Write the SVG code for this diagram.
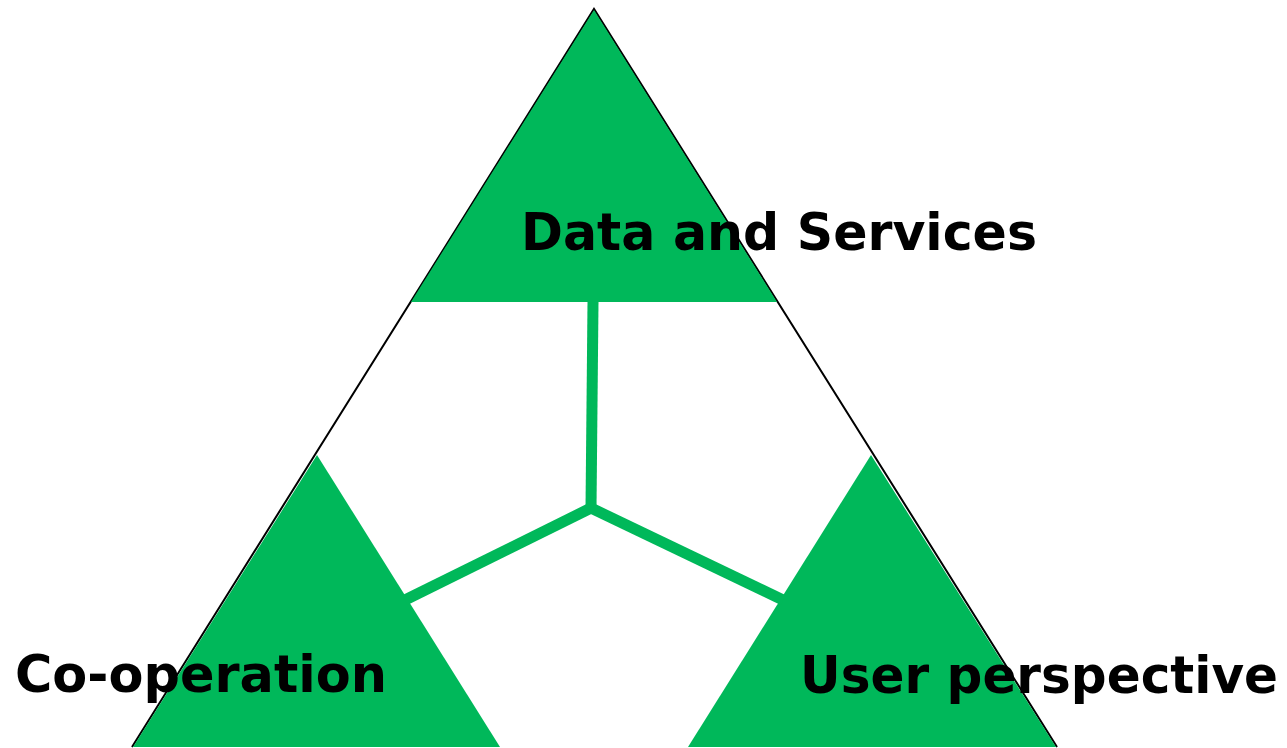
<svg xmlns="http://www.w3.org/2000/svg" width="1287" height="748" viewBox="0 0 1287 748">
<style>
.g{fill:#00B85A}
.c{stroke:#00B85A;stroke-width:11;fill:none;stroke-linecap:butt}
.t{font-family:"DejaVu Sans",Verdana,sans-serif;font-weight:bold;font-size:51px;fill:#000}
</style>
<rect width="1287" height="748" fill="#fff"/>
<g id="outer">
<polygon points="594,9 132,747 1057,747" fill="#fff" stroke="none"/>
<polyline points="132,747 594,9 1057,747" fill="none" stroke="#000" stroke-width="2"/>
</g>
<g id="data-and-services">
<polygon class="g" points="594,10 411,302 777,302"/>
</g>
<g id="co-operation">
<polygon class="g" points="317,455 133,747 500,747"/>
</g>
<g id="user-perspective">
<polygon class="g" points="871,455 688,747 1056,747"/>
</g>
<g id="connectors">
<polyline class="c" points="593,302 591,508"/>
<polyline class="c" points="405,600 591,508"/>
<polyline class="c" points="783,600 591,508"/>
</g>
<g id="labels">
<text class="t" x="521" y="250" textLength="516" lengthAdjust="spacingAndGlyphs">Data and Services</text>
<text class="t" x="15" y="692" textLength="372" lengthAdjust="spacingAndGlyphs">Co-operation</text>
<text class="t" x="800" y="693" textLength="478" lengthAdjust="spacingAndGlyphs">User perspective</text>
</g>
</svg>
